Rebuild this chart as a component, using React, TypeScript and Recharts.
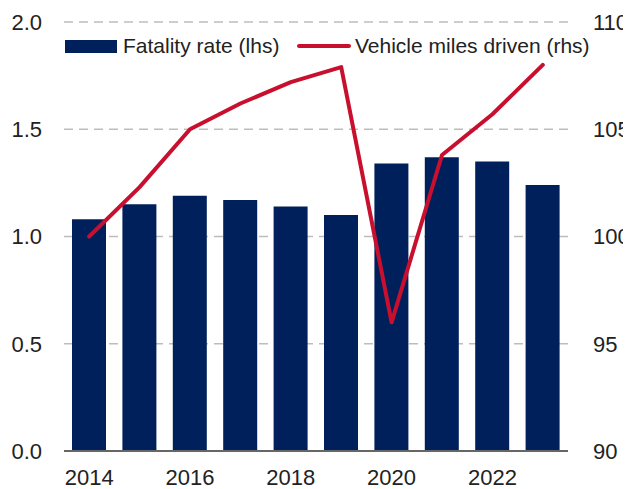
import { Bar, ComposedChart, Line, XAxis, YAxis, CartesianGrid } from "recharts"

const years = ["2014", "2015", "2016", "2017", "2018", "2019", "2020", "2021", "2022", "2023"]
const fatalityRate = [1.08, 1.15, 1.19, 1.17, 1.14, 1.1, 1.34, 1.37, 1.35, 1.24]
const vehicleMiles = [100.0, 102.3, 105.0, 106.2, 107.2, 107.9, 96.0, 103.8, 105.7, 108.0]
const leftTicks = [0, 0.5, 1.0, 1.5, 2.0]
const rightTicks = [90, 95, 100, 105, 110]

const data = years.map((year, i) => ({
  year,
  fatality: fatalityRate[i],
  miles: vehicleMiles[i],
}))

const NAVY = "#00205B"
const RED = "#C8102E"
const FONT = "'Liberation Sans', Arial, sans-serif"

// legend drawn as an overlay so it doesn't take room from the plot
function ChartLegend() {
  const group = {
    position: "absolute" as const,
    top: 25,
    height: 26,
    display: "flex",
    alignItems: "center",
    fontFamily: FONT,
    fontSize: 21,
    color: "#222",
    whiteSpace: "nowrap" as const,
  }
  return (
    <>
      <div style={{ ...group, left: 57 }}>
        <span style={{ display: "inline-block", width: 52, height: 13, background: NAVY, marginRight: 6 }} />
        <span>Fatality rate (lhs)</span>
      </div>
      <div style={{ ...group, left: 289 }}>
        <span style={{ display: "inline-block", width: 54, height: 4, borderRadius: 2, background: RED, marginRight: 4 }} />
        <span>Vehicle miles driven (rhs)</span>
      </div>
    </>
  )
}

export default function App() {
  const tickStyle = { fill: "#222", fontSize: 22, fontFamily: FONT }
  return (
    <div style={{ position: "relative", width: 623, height: 481 }}>
      <ComposedChart width={623} height={481} data={data} margin={{ top: 14, right: 0, bottom: 0, left: 0 }}>
        <CartesianGrid yAxisId="left" vertical={false} stroke="#bdbdbd" strokeDasharray="9 6" strokeWidth={1.5} />
        <XAxis
          dataKey="year"
          interval={1}
          tickLine={false}
          tickSize={0}
          tickMargin={18}
          height={38}
          axisLine={{ stroke: "#666", strokeWidth: 2 }}
          tick={tickStyle}
        />
        <YAxis
          yAxisId="left"
          domain={[0, 2]}
          ticks={leftTicks}
          tickFormatter={(v) => v.toFixed(1)}
          axisLine={false}
          tickLine={false}
          tickSize={0}
          tickMargin={22}
          width={56}
          tick={tickStyle}
        />
        <YAxis
          yAxisId="right"
          orientation="right"
          domain={[90, 110]}
          ticks={rightTicks}
          axisLine={false}
          tickLine={false}
          tickSize={0}
          tickMargin={25}
          width={63}
          tick={tickStyle}
        />
        <Bar yAxisId="left" dataKey="fatality" name="Fatality rate (lhs)" fill={NAVY} barSize={34} isAnimationActive={false} />
        <Line
          yAxisId="right"
          type="linear"
          dataKey="miles"
          name="Vehicle miles driven (rhs)"
          stroke={RED}
          strokeWidth={4}
          dot={false}
          activeDot={false}
          strokeLinecap="round"
          strokeLinejoin="round"
          isAnimationActive={false}
        />
      </ComposedChart>
      <ChartLegend />
    </div>
  )
}
